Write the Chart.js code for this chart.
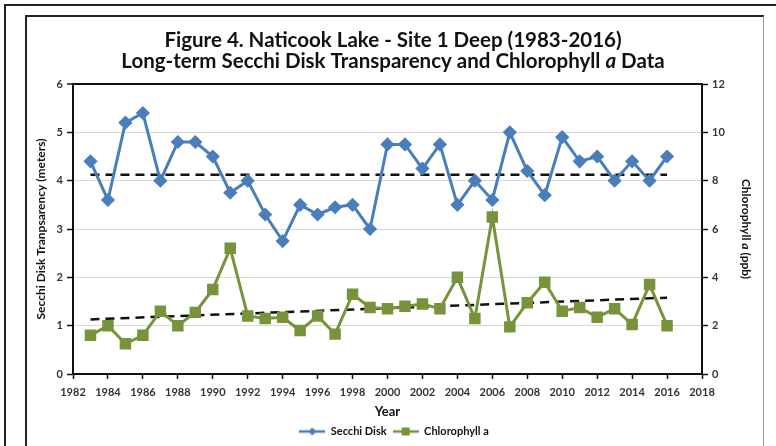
<!DOCTYPE html>
<html>
<head>
<meta charset="utf-8">
<script src="https://cdn.jsdelivr.net/npm/chart.js@4.4.1/dist/chart.umd.min.js"></script>
<style>
  html, body { margin: 0; padding: 0; background: #fff; }
  #wrap { position: relative; width: 776px; height: 446px; overflow: hidden; }
  #outer { position: absolute; left: 4px; top: 4px; width: 900px; height: 600px;
           border-left: 2px solid #222; border-top: 2px solid #222; }
  #inner { position: absolute; left: 25px; top: 15px; width: 736px; height: 600px;
           border-left: 2px solid #222; border-top: 2px solid #222; border-right: 1px solid #999; }
  canvas { position: absolute; left: 0; top: 0; }
</style>
</head>
<body>
<div id="wrap">
  <div id="outer"></div>
  <div id="inner"></div>
  <canvas id="chart" width="776" height="446"></canvas>
</div>
<script>
const years = [1983, 1984, 1985, 1986, 1987, 1988, 1989, 1990, 1991, 1992, 1993, 1994,
  1995, 1996, 1997, 1998, 1999, 2000, 2001, 2002, 2003, 2004, 2005, 2006, 2007, 2008,
  2009, 2010, 2011, 2012, 2013, 2014, 2015, 2016];
const secchi = [4.4, 3.6, 5.2, 5.4, 4.0, 4.8, 4.8, 4.5, 3.75, 4.0, 3.3, 2.75,
  3.5, 3.3, 3.45, 3.5, 3.0, 4.75, 4.75, 4.25, 4.75, 3.5, 4.0, 3.6, 5.0, 4.2,
  3.7, 4.9, 4.4, 4.5, 4.0, 4.4, 4.0, 4.5];
const chlorophyll = [1.6, 2.0, 1.25, 1.6, 2.6, 2.0, 2.55, 3.5, 5.2, 2.4, 2.3, 2.35,
  1.8, 2.4, 1.65, 3.3, 2.75, 2.7, 2.8, 2.9, 2.7, 4.0, 2.3, 6.5, 1.95, 2.95,
  3.8, 2.6, 2.75, 2.35, 2.7, 2.05, 3.7, 2.0];
// trend line end points
const trendYears = [1983, 2016];
const secchiTrend = [4.12, 4.12];
const chloroTrend = [2.26, 3.16];

const blue = '#4a7ebb';
const green = '#77933c';
const fontFamily = 'Lato, "Open Sans", sans-serif';

function pts(xs, ys) {
  return xs.map((x, i) => ({ x: x, y: ys[i] }));
}

function legendIcon(color, shape) {
  const c = document.createElement('canvas');
  c.width = 26; c.height = 12;
  const g = c.getContext('2d');
  g.strokeStyle = color;
  g.lineWidth = 2.5;
  g.beginPath(); g.moveTo(0, 6); g.lineTo(26, 6); g.stroke();
  g.fillStyle = color;
  if (shape === 'diamond') {
    g.beginPath(); g.moveTo(13, 2); g.lineTo(17, 6); g.lineTo(13, 10); g.lineTo(9, 6); g.closePath(); g.fill();
  } else {
    g.fillRect(9, 2, 8, 8);
  }
  return c;
}

const titlePlugin = {
  id: 'titles',
  afterDraw(chart) {
    const ctx = chart.ctx;
    ctx.save();
    ctx.fillStyle = '#111';
    ctx.textBaseline = 'alphabetic';
    // two title lines with an italic "a"
    const cx = 393;
    const lines = [
      [['Figure 4. Naticook Lake - Site 1 Deep (1983-2016)', 'bold']],
      [['Long-term Secchi Disk Transparency and Chlorophyll ', 'bold'], ['a', 'italic bold'], [' Data', 'bold']]
    ];
    const baselines = [47, 68];
    lines.forEach((parts, li) => {
      let total = 0;
      parts.forEach(p => { ctx.font = p[1] + ' 20.5px ' + fontFamily; total += ctx.measureText(p[0]).width; });
      let x = cx - total / 2;
      ctx.textAlign = 'left';
      parts.forEach(p => {
        ctx.font = p[1] + ' 20.5px ' + fontFamily;
        ctx.fillText(p[0], x, baselines[li]);
        x += ctx.measureText(p[0]).width;
      });
    });
    // right axis title
    ctx.translate(746, 229);
    ctx.rotate(Math.PI / 2);
    const rparts = [['Chlorophyll ', 'bold'], ['a', 'italic bold'], [' (ppb)', 'bold']];
    let tw = 0;
    rparts.forEach(p => { ctx.font = p[1] + ' 12px ' + fontFamily; tw += ctx.measureText(p[0]).width; });
    let rx = -tw / 2;
    ctx.textBaseline = 'middle';
    rparts.forEach(p => {
      ctx.font = p[1] + ' 12px ' + fontFamily;
      ctx.fillText(p[0], rx, 0);
      rx += ctx.measureText(p[0]).width;
    });
    ctx.restore();
  }
};

new Chart(document.getElementById('chart'), {
  type: 'line',
  data: {
    datasets: [
      {
        label: 'Secchi Disk',
        data: pts(years, secchi),
        yAxisID: 'y',
        borderColor: blue,
        backgroundColor: blue,
        borderWidth: 3,
        pointStyle: 'rectRot',
        pointRadius: 5,
        pointHoverRadius: 5,
        tension: 0
      },
      {
        label: 'Chlorophyll a',
        data: pts(years, chlorophyll),
        yAxisID: 'y2',
        borderColor: green,
        backgroundColor: green,
        borderWidth: 3,
        pointStyle: 'rect',
        pointRadius: 6,
        pointHoverRadius: 6,
        tension: 0
      },
      {
        label: 'secchi trend',
        data: pts(trendYears, secchiTrend),
        yAxisID: 'y',
        borderColor: '#111',
        borderWidth: 2.5,
        borderDash: [9, 6],
        pointRadius: 0
      },
      {
        label: 'chlorophyll trend',
        data: pts(trendYears, chloroTrend),
        yAxisID: 'y2',
        borderColor: '#111',
        borderWidth: 2.5,
        borderDash: [9, 6],
        pointRadius: 0
      }
    ]
  },
  options: {
    responsive: false,
    animation: false,
    events: [],
    layout: { padding: { top: 84, left: 28, right: 16, bottom: 2 } },
    plugins: {
      title: { display: false },
      tooltip: { enabled: false },
      legend: {
        position: 'bottom',
        maxHeight: 24,
        labels: {
          usePointStyle: true,
          pointStyleWidth: 26,
          boxHeight: 12,
          padding: 6,
          color: '#111',
          font: { family: fontFamily, size: 11, weight: 'bold' },
          generateLabels() {
            return [
              { text: 'Secchi Disk', pointStyle: legendIcon(blue, 'diamond'), fontColor: '#111', lineWidth: 0, datasetIndex: 0 },
              { text: 'Chlorophyll a', pointStyle: legendIcon(green, 'square'), fontColor: '#111', lineWidth: 0, datasetIndex: 1 }
            ];
          }
        }
      }
    },
    scales: {
      x: {
        type: 'linear',
        min: 1982,
        max: 2018,
        ticks: { stepSize: 2, color: '#333', padding: 7, font: { family: fontFamily, size: 11, weight: 'bold' },
                 callback: v => String(v) },
        grid: { drawOnChartArea: false, tickLength: 5, tickColor: '#111', tickWidth: 1.5 },
        border: { color: '#111', width: 2 },
        title: { display: true, text: 'Year', color: '#111', padding: { top: 0, bottom: 0 },
                 font: { family: fontFamily, size: 13, weight: 'bold' } },
        afterFit(scale) { scale.height = 46; }
      },
      y: {
        position: 'left',
        min: 0,
        max: 6,
        ticks: { stepSize: 1, color: '#333', padding: 4, font: { family: fontFamily, size: 11, weight: 'bold' } },
        grid: {
          color: ctx => ctx.tick && ctx.tick.value === 6 ? '#111' : '#d9d9d9',
          lineWidth: ctx => ctx.tick && ctx.tick.value === 6 ? 2 : 1,
          tickLength: 6, tickColor: '#111', tickWidth: 1.5
        },
        border: { color: '#111', width: 2 },
        title: { display: true, text: 'Secchi Disk Tranpsarency (meters)', color: '#111',
                 padding: { top: 6, bottom: 4 }, font: { family: fontFamily, size: 12, weight: 'bold' } },
        afterFit(scale) { scale.width = 45; }
      },
      y2: {
        position: 'right',
        min: 0,
        max: 12,
        ticks: { stepSize: 2, color: '#333', padding: 4, font: { family: fontFamily, size: 11, weight: 'bold' } },
        grid: { drawOnChartArea: false, tickLength: 6, tickColor: '#111', tickWidth: 1.5 },
        border: { color: '#111', width: 2 },
        afterFit(scale) { scale.width = 58; }
      }
    }
  },
  plugins: [titlePlugin]
});
</script>
</body>
</html>
